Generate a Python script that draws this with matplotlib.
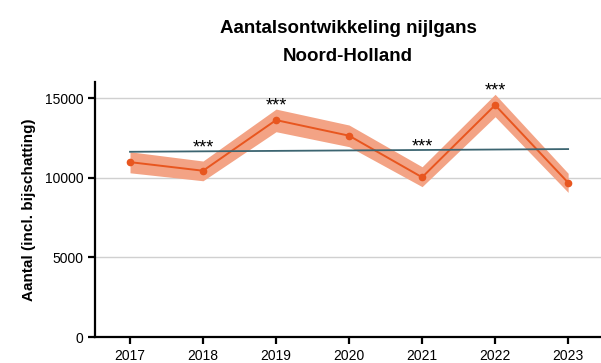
import matplotlib.pyplot as plt

plt.rcParams['font.family'] = ['Liberation Sans', 'DejaVu Sans']

# jaarlijkse aantallen (incl. bijschatting) met betrouwbaarheidsband
jaren = [2017, 2018, 2019, 2020, 2021, 2022, 2023]
aantal = [10980, 10440, 13620, 12640, 10030, 14560, 9690]
onder = [10310, 9810, 12890, 11950, 9440, 13830, 9080]
boven = [11630, 11050, 14310, 13310, 10690, 15240, 10280]

# lineaire trend over de hele periode
trend_jaren = [2017, 2023]
trend = [11630, 11800]

# jaren met significant verschil t.o.v. vorig jaar
signif = [2018, 2019, 2021, 2022]

oranje = '#e8561f'
band = '#f3a385'
teal = '#3c6571'

fig = plt.figure(figsize=(6.01, 3.63), dpi=100)
ax = fig.add_axes([0.158, 0.0716, 0.842, 0.702])

ax.fill_between(jaren, onder, boven, color=band, lw=0, zorder=2)
ax.plot(jaren, aantal, color=oranje, lw=1.4, marker='o', ms=4.5, zorder=3)

# trendlijn tussen begin- en eindjaar
ax.plot(trend_jaren, trend, color=teal, lw=1.3, zorder=4)

for j in signif:
    i = jaren.index(j)
    t = trend[0] + (trend[1] - trend[0]) * (j - trend_jaren[0]) / (trend_jaren[1] - trend_jaren[0])
    y = max(boven[i], t)
    ax.annotate('***', (j, y), xytext=(0, -1), textcoords='offset points',
                ha='center', va='baseline', fontsize=13)

ax.set_xlim(2016.52, 2023.45)
ax.set_ylim(0, 16000)
ax.set_xticks(jaren)
ax.set_yticks([0, 5000, 10000, 15000])
ax.yaxis.grid(True, color='#d0d0d0', lw=1)
ax.set_axisbelow(True)

for s in ['top', 'right']:
    ax.spines[s].set_visible(False)
for s in ['left', 'bottom']:
    ax.spines[s].set_linewidth(1.6)
ax.tick_params(width=1.6, length=5, labelsize=10, colors='black')

ax.set_ylabel('Aantal (incl. bijschatting)', fontsize=11, fontweight='bold', labelpad=6)
ax.set_title('Aantalsontwikkeling nijlgans\nNoord-Holland', fontsize=13.5,
             fontweight='bold', pad=15, linespacing=1.85)

fig.savefig('out.png', dpi=100)
